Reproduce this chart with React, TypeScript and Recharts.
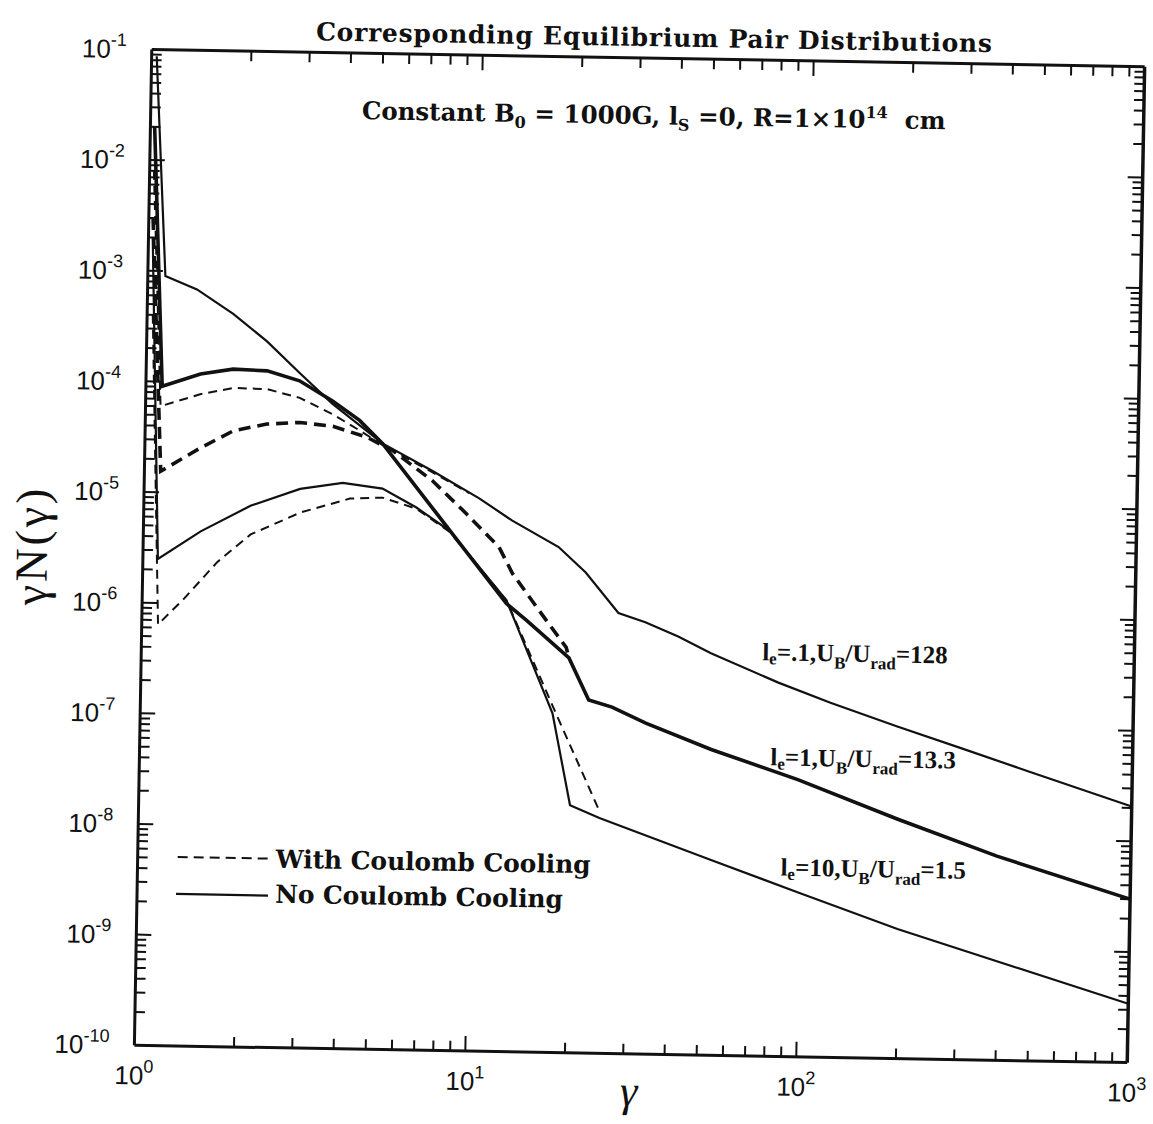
import React from 'react';
import { LineChart, Line, XAxis, YAxis, ReferenceLine } from 'recharts';

// gamma and gamma*N(gamma), one pair of arrays per curve
// l_e = .1 (thin), no Coulomb cooling
const gammaA = [1.036, 1.13, 1.41, 1.82, 2.31, 2.91, 3.67, 5.22, 7.4, 10.3, 13.0, 18.0, 21.8, 27.5, 33.2, 41.8, 52.6, 84, 121.5, 194, 309, 489, 1000];
const valuesA = [8.7e-2, 9.0e-4, 6.9e-4, 4.2e-4, 2.4e-4, 1.26e-4, 6.7e-5, 3.0e-5, 1.73e-5, 9.9e-6, 6.3e-6, 3.7e-6, 2.2e-6, 9.6e-7, 8.0e-7, 6.0e-7, 4.3e-7, 2.4e-7, 1.6e-7, 1.0e-7, 6.4e-8, 4.1e-8, 2.06e-8];

// l_e = 1 (thick), no Coulomb cooling
const gammaB = [1.03, 1.12, 1.46, 1.83, 2.32, 2.91, 3.67, 4.44, 5.22, 7.44, 12.6, 14.5, 19.6, 22.6, 26.6, 33.7, 53.3, 97.7, 196, 394, 1000];
const valuesB = [2e-2, 9.1e-5, 1.19e-4, 1.33e-4, 1.30e-4, 1.07e-4, 7.1e-5, 4.8e-5, 3.0e-5, 8.0e-6, 1.12e-6, 8.0e-7, 3.7e-7, 1.55e-7, 1.35e-7, 9.8e-8, 5.8e-8, 3.2e-8, 1.46e-8, 7.0e-9, 3.0e-9];

// l_e = 10 (thin), no Coulomb cooling
const gammaC = [1.03, 1.11, 1.49, 2.10, 2.96, 3.98, 5.25, 6.66, 8.40, 12.6, 17.6, 20.1, 24.7, 54.2, 99.3, 199, 1000];
const valuesC = [2e-3, 2.5e-6, 4.5e-6, 7.8e-6, 1.13e-5, 1.30e-5, 1.17e-5, 8.0e-6, 5.0e-6, 1.2e-6, 1.16e-7, 1.73e-8, 1.34e-8, 5.8e-9, 3.05e-9, 1.48e-9, 3.4e-10];

// with Coulomb cooling
const gammaA2 = [1.03, 1.11, 1.46, 1.84, 2.32, 2.92, 3.68, 4.44, 5.22, 7.4, 9.6];
const valuesA2 = [8e-3, 6.0e-5, 7.8e-5, 9.0e-5, 8.9e-5, 7.5e-5, 5.4e-5, 3.9e-5, 2.9e-5, 1.68e-5, 1.1e-5];

const gammaB2 = [1.03, 1.12, 1.47, 1.85, 2.33, 2.93, 3.69, 4.67, 5.60, 7.41, 9.42, 11.9, 13.1, 15.8, 19.2, 19.6];
const valuesB2 = [3e-3, 1.55e-5, 2.55e-5, 3.7e-5, 4.3e-5, 4.5e-5, 4.2e-5, 3.4e-5, 2.6e-5, 1.41e-5, 7.2e-6, 3.6e-6, 2.1e-6, 9.9e-7, 4.6e-7, 3.7e-7];

const gammaC2 = [1.04, 1.12, 1.34, 1.68, 2.11, 2.97, 4.19, 5.26, 6.66, 8.40, 12.6, 18.0, 24.6];
const valuesC2 = [4e-4, 6.4e-7, 1.11e-6, 2.4e-6, 4.3e-6, 6.9e-6, 9.4e-6, 9.7e-6, 7.8e-6, 4.9e-6, 1.2e-6, 1.17e-7, 1.58e-8];

const xDecades = [1, 10, 100, 1000];
const yDecades = [1e-10, 1e-9, 1e-8, 1e-7, 1e-6, 1e-5, 1e-4, 1e-3, 1e-2, 1e-1];

const pts = (g: number[], v: number[]) => g.map((x, i) => ({ g: x, v: v[i] }));

const INK = '#111';
const PX_X = 331; // px per decade along x
const PX_Y = 110.7; // px per decade along y
const MAJOR = 15;
const MINOR = 10;

// inward tick marks, at 1..9 x each decade
const minorSteps = (decades: number[]) => {
  const out: { v: number; len: number }[] = [];
  decades.slice(0, -1).forEach((d) => {
    for (let m = 1; m <= 9; m++) {
      if (d === decades[0] && m === 1) continue;
      out.push({ v: m * d, len: m === 1 ? MAJOR : MINOR });
    }
  });
  return out;
};
const xMarks = minorSteps(xDecades);
const yMarks = minorSteps(yDecades);

const XTick = (props: any) => {
  const { x, y, payload } = props;
  const exp = Math.round(Math.log10(payload.value));
  return (
    <text x={x} y={y + 39} textAnchor="middle" fontFamily="Liberation Sans" fontSize={26} fill={INK}>
      10<tspan dy={-12} fontSize={18}>{exp}</tspan>
    </text>
  );
};

const YTick = (props: any) => {
  const { x, y, payload } = props;
  const exp = Math.round(Math.log10(payload.value));
  return (
    <text x={x - 25} y={y + 9} textAnchor="end" fontFamily="Liberation Sans" fontSize={26} fill={INK}>
      10<tspan dy={-12} fontSize={18}>{exp}</tspan>
    </text>
  );
};

const serif = 'DejaVu Serif';

export default function App() {
  return (
    <div style={{ position: 'absolute', left: 0, top: 0, width: 1153, height: 1124, overflow: 'hidden', background: '#fff' }}>
      <div
        style={{
          position: 'absolute',
          left: 0,
          top: 0,
          width: 1190,
          height: 1124,
          transform: 'rotate(1deg)',
          transformOrigin: '639px 556px',
        }}
      >
        <LineChart width={1190} height={1124} margin={{ top: 58, right: 54, bottom: 0, left: 0 }}>
          <XAxis
            type="number"
            dataKey="g"
            scale="log"
            domain={[1, 1000]}
            ticks={xDecades}
            allowDataOverflow
            interval={0}
            height={70}
            tickSize={0}
            tickMargin={0}
            tick={<XTick />}
            axisLine={{ stroke: INK, strokeWidth: 3 }}
            tickLine={false}
          />
          <YAxis
            type="number"
            dataKey="v"
            scale="log"
            domain={[1e-10, 1e-1]}
            ticks={yDecades}
            allowDataOverflow
            interval={0}
            width={143}
            tickSize={0}
            tickMargin={0}
            tick={<YTick />}
            axisLine={{ stroke: INK, strokeWidth: 3 }}
            tickLine={false}
          />
          <ReferenceLine y={1e-1} stroke={INK} strokeWidth={3} ifOverflow="visible" />
          <ReferenceLine x={1000} stroke={INK} strokeWidth={3.5} ifOverflow="visible" />
          {yMarks.map((t) => (
            <React.Fragment key={'y' + t.v}>
              <ReferenceLine segment={[{ x: 1, y: t.v }, { x: Math.pow(10, t.len / PX_X), y: t.v }]} stroke={INK} strokeWidth={2} ifOverflow="visible" />
              <ReferenceLine segment={[{ x: 1000 / Math.pow(10, t.len / PX_X), y: t.v }, { x: 1000, y: t.v }]} stroke={INK} strokeWidth={2} ifOverflow="visible" />
            </React.Fragment>
          ))}
          {xMarks.map((t) => (
            <React.Fragment key={'x' + t.v}>
              <ReferenceLine segment={[{ x: t.v, y: 1e-10 }, { x: t.v, y: 1e-10 * Math.pow(10, t.len / PX_Y) }]} stroke={INK} strokeWidth={2} ifOverflow="visible" />
              <ReferenceLine segment={[{ x: t.v, y: 1e-1 / Math.pow(10, t.len / PX_Y) }, { x: t.v, y: 1e-1 }]} stroke={INK} strokeWidth={2} ifOverflow="visible" />
            </React.Fragment>
          ))}
          <Line data={pts(gammaA2, valuesA2)} dataKey="v" type="linear" stroke={INK} strokeWidth={2} strokeDasharray="9 6" dot={false} isAnimationActive={false} />
          <Line data={pts(gammaB2, valuesB2)} dataKey="v" type="linear" stroke={INK} strokeWidth={3.6} strokeDasharray="12 7" dot={false} isAnimationActive={false} />
          <Line data={pts(gammaC2, valuesC2)} dataKey="v" type="linear" stroke={INK} strokeWidth={2} strokeDasharray="9 6" dot={false} isAnimationActive={false} />
          <Line data={pts(gammaA, valuesA)} dataKey="v" type="linear" stroke={INK} strokeWidth={2.2} dot={false} isAnimationActive={false} />
          <Line data={pts(gammaB, valuesB)} dataKey="v" type="linear" stroke={INK} strokeWidth={3.6} dot={false} isAnimationActive={false} />
          <Line data={pts(gammaC, valuesC)} dataKey="v" type="linear" stroke={INK} strokeWidth={2.2} dot={false} isAnimationActive={false} />
        </LineChart>

        <svg width={1190} height={1124} style={{ position: 'absolute', left: 0, top: 0, pointerEvents: 'none' }}>
          <text x={645} y={46} textAnchor="middle" fontFamily={serif} fontWeight="bold" fontSize={25} textLength={676} lengthAdjust="spacing" fill={INK}>
            Corresponding Equilibrium Pair Distributions
          </text>
          <text x={646} y={124} textAnchor="middle" fontFamily={serif} fontWeight="bold" fontSize={24.5} fill={INK}>
            Constant B<tspan dy={6} fontSize={16}>0</tspan>
            <tspan dy={-6}> = 1000G, l</tspan>
            <tspan dy={6} fontSize={16}>S</tspan>
            <tspan dy={-6}> =0, R=1×10</tspan>
            <tspan dy={-10} fontSize={16}>14</tspan>
            <tspan dy={10}>{'\u00a0\u00a0cm'}</tspan>
          </text>

          <line x1={183} y1={865} x2={273} y2={865} stroke={INK} strokeWidth={2} strokeDasharray="10 6" />
          <line x1={182} y1={902} x2={274} y2={902} stroke={INK} strokeWidth={2.2} />
          <text x={281} y={874} fontFamily={serif} fontWeight="bold" fontSize={25} textLength={315} lengthAdjust="spacing" fill={INK}>
            With Coulomb Cooling
          </text>
          <text x={281} y={909} fontFamily={serif} fontWeight="bold" fontSize={25} textLength={288} lengthAdjust="spacing" fill={INK}>
            No Coulomb Cooling
          </text>

          <g fontFamily="Liberation Serif" fontWeight="bold" fontSize={25} fill={INK}>
            <text x={764} y={658}>
              l<tspan dy={4} fontSize={17}>e</tspan>
              <tspan dy={-4}>=.1,U</tspan>
              <tspan dy={7} fontSize={17}>B</tspan>
              <tspan dy={-7}>/U</tspan>
              <tspan dy={7} fontSize={17}>rad</tspan>
              <tspan dy={-7}>=128</tspan>
            </text>
            <text x={774} y={763}>
              l<tspan dy={4} fontSize={17}>e</tspan>
              <tspan dy={-4}>=1,U</tspan>
              <tspan dy={7} fontSize={17}>B</tspan>
              <tspan dy={-7}>/U</tspan>
              <tspan dy={7} fontSize={17}>rad</tspan>
              <tspan dy={-7}>=13.3</tspan>
            </text>
            <text x={786} y={873}>
              l<tspan dy={4} fontSize={17}>e</tspan>
              <tspan dy={-4}>=10,U</tspan>
              <tspan dy={7} fontSize={17}>B</tspan>
              <tspan dy={-7}>/U</tspan>
              <tspan dy={7} fontSize={17}>rad</tspan>
              <tspan dy={-7}>=1.5</tspan>
            </text>
          </g>

          <text transform="translate(47,556) rotate(-90)" textAnchor="middle" fontFamily="Liberation Serif" fontSize={46} letterSpacing={3} fill={INK}>
            γN(γ)
          </text>
          <text x={638} y={1106} textAnchor="middle" fontFamily="Liberation Serif" fontStyle="italic" fontSize={44} fill={INK}>
            γ
          </text>
        </svg>
      </div>
    </div>
  );
}
